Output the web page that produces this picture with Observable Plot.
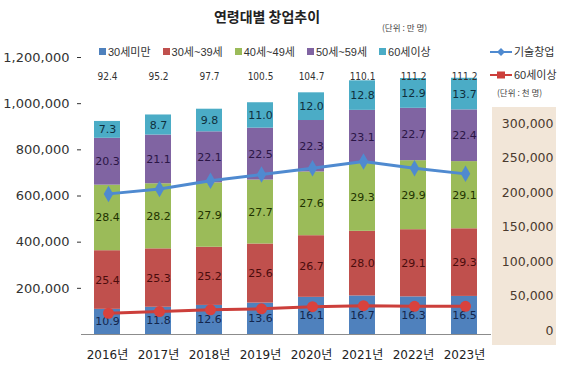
<!DOCTYPE html>
<html><head><meta charset="utf-8">
<script src="https://cdn.jsdelivr.net/npm/d3@7"></script>
<script src="https://cdn.jsdelivr.net/npm/@observablehq/plot@0.6"></script>
<style>
body{margin:0;background:#fff;}
#wrap{position:relative;width:561px;height:365px;overflow:hidden;background:#fff;font-family:"Liberation Sans","Noto Sans CJK KR",sans-serif;color:#222;}
#wrap svg.plot{position:absolute;left:0;top:0;}
#panel{position:absolute;left:492px;top:107px;width:64px;height:238px;background:#f2e6d8;}
#title{position:absolute;left:0;width:534px;top:6px;text-align:center;font-family:"Noto Sans CJK KR",sans-serif;font-weight:bold;font-size:14px;color:#222;}
#unitL{position:absolute;left:382px;top:21px;font-family:"Noto Sans CJK KR",sans-serif;font-size:8.5px;color:#444;}
#legend{position:absolute;left:99px;top:43px;display:flex;gap:12px;font-size:11px;color:#333;white-space:nowrap;}
#legend span.sw{display:inline-block;width:7px;height:7px;margin-right:2px;vertical-align:1px;}
.lineleg{position:absolute;left:490px;font-size:11px;color:#333;white-space:nowrap;}
.lineleg svg{vertical-align:-1px;margin-right:2px;}
#unitR{position:absolute;left:497px;top:86px;font-family:"Noto Sans CJK KR",sans-serif;font-size:8.5px;color:#444;}
</style></head><body>
<div id="wrap">
  <div id="panel"></div>
</div>
<script>
// ---- data ----
const years = ["2016","2017","2018","2019","2020","2021","2022","2023"];
const seriesNames = ["30세미만","30세~39세","40세~49세","50세~59세","60세이상"];
const under30   = [10.9, 11.8, 12.6, 13.6, 16.1, 16.7, 16.3, 16.5];
const age30s    = [25.4, 25.3, 25.2, 25.6, 26.7, 28.0, 29.1, 29.3];
const age40s    = [28.4, 28.2, 27.9, 27.7, 27.6, 29.3, 29.9, 29.1];
const age50s    = [20.3, 21.1, 22.1, 22.5, 22.3, 23.1, 22.7, 22.4];
const age60plus = [7.3, 8.7, 9.8, 11.0, 12.0, 12.8, 12.9, 13.7];
const totals    = [92.4, 95.2, 97.7, 100.5, 104.7, 110.1, 111.2, 111.2];
const techStartup = [198000, 205000, 217000, 226000, 235000, 245000, 235000, 227000];
const over60Startup = [25000, 27500, 30000, 31500, 34500, 36000, 35000, 35000];
const leftTicks  = [200000, 400000, 600000, 800000, 1000000, 1200000];
const rightTicks = [0, 50000, 100000, 150000, 200000, 250000, 300000];
const lineNames = ["기술창업", "60세이상"];

// ---- styles ----
const seriesColors = ["#4f81bd", "#c0504d", "#9bbb59", "#8064a2", "#4bacc6"];
const labelColors  = ["#13264d", "#4a0c0c", "#1f3300", "#2b1646", "#0f2f3d"];
const lineColors   = ["#4f8ad0", "#cc3f3b"];
const UNIT = 10000;

const seriesValues = [under30, age30s, age40s, age50s, age60plus];
const rows = [];
seriesNames.forEach((s, i) => years.forEach((y, j) => rows.push({year: y, series: s, value: seriesValues[i][j] * UNIT, label: seriesValues[i][j]})));

const fontFam = '"DejaVu Sans","Noto Sans CJK KR",sans-serif';
const xScale = {domain: years, paddingInner: 0.49, paddingOuter: 0.234, label: null};

const labelMarks = seriesNames.map((s, i) =>
  Plot.text(rows, Plot.stackY({x: "year", y: "value", z: "series", order: seriesNames,
    text: d => d.series === s ? d.label.toFixed(1) : "",
    fill: labelColors[i], fontSize: 11, fontFamily: fontFam}))
);

const plot1 = Plot.plot({
  width: 561, height: 365,
  marginLeft: 81, marginRight: 70, marginTop: 57, marginBottom: 31,
  style: {background: "transparent", fontFamily: fontFam},
  x: xScale,
  y: {domain: [0, 1200000], label: null},
  color: {domain: seriesNames, range: seriesColors},
  marks: [
    Plot.barY(rows, Plot.stackY({x: "year", y: "value", fill: "series", order: seriesNames})),
    ...labelMarks,
    Plot.text(totals, {x: years, text: d => d.toFixed(1), frameAnchor: "top", dy: 15,
      fontSize: 10, fill: "#333", fontFamily: '"Liberation Sans Narrow","DejaVu Sans Condensed",sans-serif'}),
    Plot.ruleY([0], {stroke: "#8c8c8c"}),
    Plot.axisY(leftTicks, {anchor: "left", tickSize: 4, tickPadding: 8, tickFormat: d3.format(","),
      fontSize: 13, color: "#333", label: null}),
    Plot.axisX({tickSize: 0, tickPadding: 16, tickFormat: d => d + "년", fontSize: 12, color: "#222", label: null})
  ]
});
plot1.classList.add("plot");

const lineRows = [];
[techStartup, over60Startup].forEach((arr, i) => years.forEach((y, j) => lineRows.push({year: y, name: lineNames[i], value: arr[j]})));
const tech = lineRows.filter(d => d.name === lineNames[0]);
const sixty = lineRows.filter(d => d.name === lineNames[1]);

const plot2 = Plot.plot({
  width: 561, height: 365,
  marginLeft: 81, marginRight: 70, marginTop: 123, marginBottom: 35,
  style: {background: "transparent", fontFamily: fontFam},
  x: {...xScale, axis: null},
  y: {domain: [0, 300000], axis: null},
  marks: [
    Plot.line(tech, {x: "year", y: "value", stroke: lineColors[0], strokeWidth: 3}),
    Plot.dot(tech, {x: "year", y: "value", symbol: "diamond", r: 5, fill: lineColors[0], stroke: "none"}),
    Plot.line(sixty, {x: "year", y: "value", stroke: lineColors[1], strokeWidth: 3}),
    Plot.dot(sixty, {x: "year", y: "value", r: 5.5, fill: "#d9423d", stroke: "none"}),
    Plot.text(rightTicks, {y: d => d, text: d => d3.format(",")(d), frameAnchor: "right", dx: 62,
      textAnchor: "end", fontSize: 12.5, fill: "#4a3a2e"})
  ]
});
plot2.classList.add("plot");

const wrap = document.getElementById("wrap");
wrap.appendChild(plot1);
wrap.appendChild(plot2);

// title & legends
const title = document.createElement("div");
title.id = "title"; title.textContent = "연령대별 창업추이";
wrap.appendChild(title);
const unitL = document.createElement("div");
unitL.id = "unitL"; unitL.textContent = "(단위 : 만 명)";
wrap.appendChild(unitL);

const legend = document.createElement("div");
legend.id = "legend";
seriesNames.forEach((s, i) => {
  const item = document.createElement("div");
  const sw = document.createElement("span");
  sw.className = "sw"; sw.style.background = seriesColors[i];
  item.appendChild(sw);
  item.appendChild(document.createTextNode(s));
  legend.appendChild(item);
});
wrap.appendChild(legend);

const legTops = [43, 66];
lineNames.forEach((n, i) => {
  const d = document.createElement("div");
  d.className = "lineleg"; d.style.top = legTops[i] + "px";
  const marker = i === 0
    ? '<polygon points="11,1 15,5 11,9 7,5" fill="' + lineColors[0] + '"/>'
    : '<rect x="7" y="1.5" width="8" height="7" fill="' + lineColors[1] + '"/>';
  d.innerHTML = '<svg width="22" height="10"><line x1="0" y1="5" x2="22" y2="5" stroke="' + lineColors[i] + '" stroke-width="2"/>' + marker + '</svg>';
  d.appendChild(document.createTextNode(n));
  wrap.appendChild(d);
});
const unitR = document.createElement("div");
unitR.id = "unitR"; unitR.textContent = "(단위 : 천 명)";
wrap.appendChild(unitR);
</script>
</body></html>
